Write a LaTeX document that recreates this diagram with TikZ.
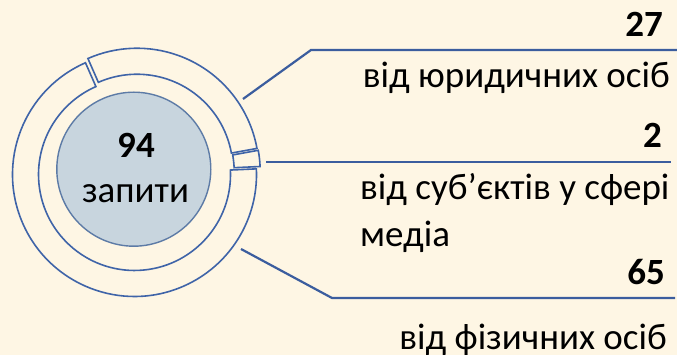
\documentclass[tikz,border=0pt]{standalone}
\usepackage{fontspec}
\setmainfont{Carlito}
\usetikzlibrary{calc}
\definecolor{bgcream}{HTML}{FEF6E4}
\definecolor{ringblue}{HTML}{3F64A8}
\definecolor{leadblue}{HTML}{3B5D9E}
\definecolor{hubfill}{HTML}{C8D5DE}
\definecolor{hubline}{HTML}{5D7BA6}
\begin{document}
\begin{tikzpicture}[x=1pt, y=1pt,
    seg/.style={draw=ringblue, line width=1.6pt, fill=bgcream},
    lead/.style={draw=leadblue, line width=2.2pt},
    lbl/.style={inner sep=0pt, font=\fontsize{37}{47.5}\selectfont}]
    \fill[bgcream] (0,0) rectangle (677,355);
    \useasboundingbox (0,0) rectangle (677,355);
    \coordinate (O) at (135.8,182.6);
    \foreach \a/\b in {113.7/10.3, 10.3/2.64, 2.64/-246.3} {
        \pgfmathsetmacro\m{(\a+\b)/2}
        \draw[seg, shift={(O)}, shift={(\m:2.45)}] (\a:96) arc[start angle=\a, end angle=\b, radius=96]
            -- (\b:122) arc[start angle=\b, end angle=\a, radius=122] -- cycle;
    }
    \node[circle, draw=hubline, fill=hubfill, line width=1.4pt, minimum size=154pt, inner sep=0pt] (hub) at (133.8,185.8) {};
    \node[lbl, anchor=base] (total) at (136,197) {\textbf{94}};
    \node[lbl, anchor=base] (req) at (135.5,152) {запити};
    \coordinate (t1) at (243,256);
    \coordinate (b1) at (311,305);
    \coordinate (e1) at (677,305);
    \draw[lead] (t1) -- (b1) -- (e1);
    \coordinate (t2) at (266,193);
    \coordinate (e2) at (671,193);
    \draw[lead] (t2) -- (e2);
    \coordinate (t3) at (241,106);
    \coordinate (b3) at (332,57);
    \coordinate (e3) at (675,57);
    \draw[lead] (t3) -- (b3) -- (e3);
    \node[lbl, anchor=base east] (n27) at (663,318) {\textbf{27}};
    \node[lbl, anchor=base east] (legal) at (670,267) {від юридичних осіб};
    \node[lbl, anchor=base east] (n2) at (662,207) {\textbf{2}};
    \node[lbl, anchor=base west, align=left] (media) at (360,108.3) {від суб’єктів у сфері\\медіа};
    \node[lbl, anchor=base east] (n65) at (665,70) {\textbf{65}};
    \node[lbl, anchor=base east] (phys) at (667,5.7) {від фізичних осіб};
\end{tikzpicture}
\end{document}
